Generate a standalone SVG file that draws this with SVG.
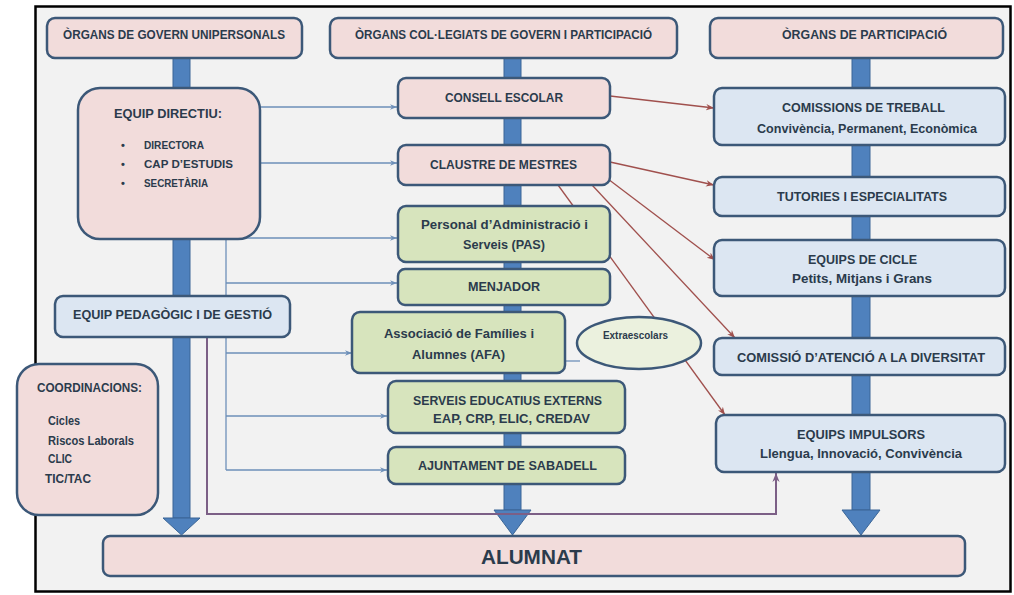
<svg xmlns="http://www.w3.org/2000/svg" width="1014" height="595" viewBox="0 0 1014 595">
<defs>
<style>
.t{font-family:"Liberation Sans",Arial,sans-serif;font-weight:bold;font-size:12px;fill:#2b3b4c}
.s{font-size:11px}
.big{font-size:21px}
.pink{fill:#f2dcdb;stroke:#3c5878;stroke-width:2.5}
.blue{fill:#dce6f2;stroke:#3c5878;stroke-width:2.5}
.green{fill:#d7e4bd;stroke:#3c5878;stroke-width:2.5}
.bar{fill:#4f81bd;stroke:#3a6596;stroke-width:1}
.cb{fill:none;stroke:#6d8fb8;stroke-width:1.3}
.cr{fill:none;stroke:#a0504d;stroke-width:1.3}
.cp{fill:none;stroke:#7c5f86;stroke-width:2}
</style>
<marker id="ab" viewBox="0 0 10 10" refX="10" refY="5" markerWidth="7" markerHeight="7" orient="auto" markerUnits="userSpaceOnUse"><path d="M0,1 L10,5 L0,9 L3,5 z" fill="#6d8fb8"/></marker>
<marker id="ar" viewBox="0 0 10 10" refX="10" refY="5" markerWidth="8" markerHeight="8" orient="auto" markerUnits="userSpaceOnUse"><path d="M0,1 L10,5 L0,9 L3,5 z" fill="#a0504d"/></marker>
<marker id="ap" viewBox="0 0 10 10" refX="10" refY="5" markerWidth="9" markerHeight="9" orient="auto" markerUnits="userSpaceOnUse"><path d="M0,1 L10,5 L0,9 L3,5 z" fill="#7c5f86"/></marker>
</defs>
<rect x="0" y="0" width="1014" height="595" fill="#ffffff"/>
<rect x="35.5" y="6.5" width="975" height="585" fill="#f2f2f2" stroke="#000" stroke-width="2.5"/>

<g id="bars">
<rect class="bar" x="173" y="58" width="17" height="460"/>
<polygon class="bar" points="163,518 200,518 181.5,535"/>
<rect class="bar" x="504" y="58" width="17" height="452"/>
<polygon class="bar" points="494,510 531,510 512.5,535"/>
<rect class="bar" x="852" y="58" width="18" height="452"/>
<polygon class="bar" points="842,510 880,510 861,535"/>
</g>

<g id="connectors">
<path class="cb" d="M260,107 H397" marker-end="url(#ab)"/>
<path class="cb" d="M260,163 H397" marker-end="url(#ab)"/>
<path class="cb" d="M226,239 V470"/>
<path class="cb" d="M226,238 H397" marker-end="url(#ab)"/>
<path class="cb" d="M226,283 H397" marker-end="url(#ab)"/>
<path class="cb" d="M226,353 H352" marker-end="url(#ab)"/>
<path class="cb" d="M226,416 H387" marker-end="url(#ab)"/>
<path class="cb" d="M226,470 H387" marker-end="url(#ab)"/>
<path class="cb" d="M565,361 H580"/>
<path class="cp" d="M207,338 V514 H776 V473" marker-end="url(#ap)"/>
<path class="cr" d="M610,96 L714,108" marker-end="url(#ar)"/>
<path class="cr" d="M610,162 L714,185" marker-end="url(#ar)"/>
<path class="cr" d="M608,179 L715,260" marker-end="url(#ar)"/>
<path class="cr" d="M592,185 L735,338" marker-end="url(#ar)"/>
<path class="cr" d="M558,185 L725,415" marker-end="url(#ar)"/>
</g>

<g id="h1"><rect class="pink" x="47" y="18" width="255" height="40" rx="8"/><text class="t" x="63" y="39" textLength="222" lengthAdjust="spacingAndGlyphs">ÒRGANS DE GOVERN UNIPERSONALS</text></g>
<g id="h2"><rect class="pink" x="330" y="18" width="347" height="40" rx="8"/><text class="t" x="355" y="39" textLength="297" lengthAdjust="spacingAndGlyphs">ÒRGANS COL·LEGIATS DE GOVERN I PARTICIPACIÓ</text></g>
<g id="h3"><rect class="pink" x="710" y="18" width="293" height="40" rx="8"/><text class="t" x="782" y="39" textLength="165" lengthAdjust="spacingAndGlyphs">ÒRGANS DE PARTICIPACIÓ</text></g>

<g id="equip-directiu"><rect class="pink" x="78" y="88" width="182" height="151" rx="22"/>
<text class="t" x="114" y="118" textLength="108" lengthAdjust="spacingAndGlyphs" style="font-size:13px">EQUIP DIRECTIU:</text>
<text class="t s" x="121" y="149">•</text><text class="t s" x="144" y="149" textLength="60" lengthAdjust="spacingAndGlyphs">DIRECTORA</text>
<text class="t s" x="121" y="168">•</text><text class="t s" x="144" y="168" textLength="89" lengthAdjust="spacingAndGlyphs">CAP D’ESTUDIS</text>
<text class="t s" x="121" y="187">•</text><text class="t s" x="144" y="187" textLength="64" lengthAdjust="spacingAndGlyphs">SECRETÀRIA</text>
</g>
<g id="equip-pedagogic"><rect class="blue" x="55" y="296" width="235" height="41" rx="8"/><text class="t" x="73" y="319" textLength="199" lengthAdjust="spacingAndGlyphs">EQUIP PEDAGÒGIC I DE GESTIÓ</text></g>
<g id="coordinacions"><rect class="pink" x="17" y="364" width="141" height="151" rx="22"/>
<text class="t" x="37" y="392" textLength="105" lengthAdjust="spacingAndGlyphs">COORDINACIONS:</text>
<text class="t" x="48" y="425" textLength="32" lengthAdjust="spacingAndGlyphs">Cicles</text>
<text class="t" x="48" y="445" textLength="86" lengthAdjust="spacingAndGlyphs">Riscos Laborals</text>
<text class="t" x="48" y="463" textLength="24" lengthAdjust="spacingAndGlyphs">CLIC</text>
<text class="t" x="45" y="483" textLength="46" lengthAdjust="spacingAndGlyphs">TIC/TAC</text>
</g>

<g id="consell"><rect class="pink" x="398" y="78" width="212" height="40" rx="8"/><text class="t" x="445" y="102" textLength="118" lengthAdjust="spacingAndGlyphs">CONSELL ESCOLAR</text></g>
<g id="claustre"><rect class="pink" x="398" y="145" width="212" height="40" rx="8"/><text class="t" x="430" y="169" textLength="147" lengthAdjust="spacingAndGlyphs">CLAUSTRE DE MESTRES</text></g>
<g id="pas"><rect class="green" x="398" y="206" width="212" height="56" rx="8"/>
<text class="t" x="421" y="229" textLength="167" lengthAdjust="spacingAndGlyphs">Personal d’Administració  i</text>
<text class="t" x="463" y="249" textLength="82" lengthAdjust="spacingAndGlyphs">Serveis (PAS)</text></g>
<g id="menjador"><rect class="green" x="398" y="269" width="212" height="36" rx="7"/><text class="t" x="468" y="291" textLength="72" lengthAdjust="spacingAndGlyphs">MENJADOR</text></g>
<g id="afa"><rect class="green" x="352" y="312" width="213" height="61" rx="8"/>
<text class="t" x="384" y="338" textLength="150" lengthAdjust="spacingAndGlyphs">Associació  de Famílies i</text>
<text class="t" x="412" y="359" textLength="93" lengthAdjust="spacingAndGlyphs">Alumnes (AFA)</text></g>
<g id="extraescolars"><ellipse cx="639" cy="343" rx="62" ry="26" fill="#ebf1de" stroke="#3c5878" stroke-width="2.5"/><text class="t" x="603" y="339" textLength="65" lengthAdjust="spacingAndGlyphs" style="font-size:10px">Extraescolars</text></g>
<g id="serveis"><rect class="green" x="388" y="381" width="237" height="52" rx="8"/>
<text class="t" x="413" y="405" textLength="189" lengthAdjust="spacingAndGlyphs">SERVEIS EDUCATIUS EXTERNS</text>
<text class="t" x="433" y="423" textLength="157" lengthAdjust="spacingAndGlyphs">EAP, CRP, ELIC, CREDAV</text></g>
<g id="ajuntament"><rect class="green" x="388" y="447" width="237" height="37" rx="8"/><text class="t" x="418" y="470" textLength="179" lengthAdjust="spacingAndGlyphs">AJUNTAMENT DE SABADELL</text></g>

<g id="comissions"><rect class="blue" x="714" y="88" width="291" height="57" rx="8"/>
<text class="t" x="782" y="112" textLength="163" lengthAdjust="spacingAndGlyphs">COMISSIONS DE TREBALL</text>
<text class="t" x="757" y="133" textLength="220" lengthAdjust="spacingAndGlyphs">Convivència,  Permanent, Econòmica</text></g>
<g id="tutories"><rect class="blue" x="714" y="177" width="291" height="39" rx="8"/><text class="t" x="777" y="201" textLength="170" lengthAdjust="spacingAndGlyphs">TUTORIES I ESPECIALITATS</text></g>
<g id="cicle"><rect class="blue" x="714" y="240" width="291" height="56" rx="8"/>
<text class="t" x="808" y="264" textLength="109" lengthAdjust="spacingAndGlyphs">EQUIPS DE CICLE</text>
<text class="t" x="792" y="283" textLength="140" lengthAdjust="spacingAndGlyphs">Petits, Mitjans i Grans</text></g>
<g id="diversitat"><rect class="blue" x="714" y="338" width="291" height="37" rx="8"/><text class="t" x="737" y="362" textLength="248" lengthAdjust="spacingAndGlyphs">COMISSIÓ D’ATENCIÓ A LA DIVERSITAT</text></g>
<g id="impulsors"><rect class="blue" x="716" y="415" width="289" height="57" rx="8"/>
<text class="t" x="797" y="439" textLength="128" lengthAdjust="spacingAndGlyphs">EQUIPS IMPULSORS</text>
<text class="t" x="760" y="458" textLength="202" lengthAdjust="spacingAndGlyphs">Llengua, Innovació, Convivència</text></g>

<g id="alumnat"><rect class="pink" x="103" y="536" width="862" height="40" rx="7"/><text class="t big" x="481" y="564" textLength="101" lengthAdjust="spacingAndGlyphs">ALUMNAT</text></g>
</svg>
